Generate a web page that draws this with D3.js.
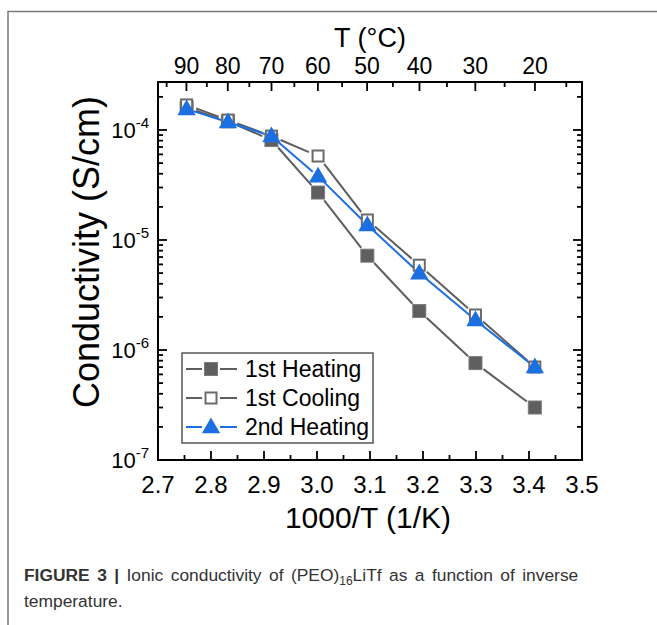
<!DOCTYPE html>
<html>
<head>
<meta charset="utf-8">
<script src="https://cdn.jsdelivr.net/npm/d3@7"></script>
<style>
  body { margin: 0; background: #fff; }
  svg { display: block; font-family: "Liberation Sans", Arial, sans-serif; }
</style>
</head>
<body>
<svg id="chart" width="657" height="625"></svg>
<script>
// inverse temperature (1000/T, 1/K) of each measurement
const invT = [2.754, 2.832, 2.914, 3.002, 3.095, 3.193, 3.299, 3.411];
// conductivity (S/cm)
const heating1 = [1.6e-4, 1.2e-4, 8.1e-5, 2.7e-5, 7.2e-6, 2.26e-6, 7.6e-7, 3.0e-7];
const cooling1 = [1.69e-4, 1.23e-4, 8.8e-5, 5.8e-5, 1.52e-5, 5.9e-6, 2.08e-6, 7.0e-7];
const heating2 = [1.55e-4, 1.18e-4, 8.8e-5, 3.8e-5, 1.37e-5, 5.0e-6, 1.87e-6, 7.0e-7];

const xTicks = [2.7, 2.8, 2.9, 3.0, 3.1, 3.2, 3.3, 3.4, 3.5];
const yTicks = [1e-7, 1e-6, 1e-5, 1e-4];
const topTempTicks = [90, 80, 70, 60, 50, 40, 30, 20];
const topTempMinor = [95, 85, 75, 65, 55, 45, 35, 25, 15];

const seriesNames = ["1st Heating", "1st Cooling", "2nd Heating"];

const svg = d3.select("#chart");
const gray = "#5e5e5e", blue = "#1b6fe0";

// outer frame (open at right and bottom)
svg.append("path")
  .attr("d", "M8,625 V11.5 H657")
  .attr("fill", "none").attr("stroke", "#7a7a7a").attr("stroke-width", 1.5);

const L = 158, R = 582, T = 82, B = 460;
const x = d3.scaleLinear().domain([2.7, 3.5]).range([L, R]);
const y = d3.scaleLog().domain([1e-7, 2.73e-4]).range([B, T]);
const tToX = t => 1000 / (t + 273.15);

// ticks (all pointing inward)
const axes = svg.append("g").attr("stroke", "#000").attr("stroke-width", 1.8);
const xMinor = d3.range(2.75, 3.5, 0.1);
xTicks.forEach(v => {
  axes.append("line").attr("x1", x(v)).attr("x2", x(v)).attr("y1", B).attr("y2", B - 9);
});
xMinor.forEach(v => {
  axes.append("line").attr("x1", x(v)).attr("x2", x(v)).attr("y1", B).attr("y2", B - 5);
});
topTempTicks.forEach(t => {
  axes.append("line").attr("x1", x(tToX(t))).attr("x2", x(tToX(t))).attr("y1", T).attr("y2", T + 9);
});
topTempMinor.forEach(t => {
  axes.append("line").attr("x1", x(tToX(t))).attr("x2", x(tToX(t))).attr("y1", T).attr("y2", T + 5);
});
const yMinor = [];
[1e-7, 1e-6, 1e-5, 1e-4].forEach(d => { for (let k = 2; k <= 9; k++) if (d * k < 2.73e-4) yMinor.push(d * k); });
yTicks.forEach(v => {
  axes.append("line").attr("x1", L).attr("x2", L + 9).attr("y1", y(v)).attr("y2", y(v));
  axes.append("line").attr("x1", R).attr("x2", R - 9).attr("y1", y(v)).attr("y2", y(v));
});
yMinor.forEach(v => {
  axes.append("line").attr("x1", L).attr("x2", L + 5).attr("y1", y(v)).attr("y2", y(v));
  axes.append("line").attr("x1", R).attr("x2", R - 5).attr("y1", y(v)).attr("y2", y(v));
});
svg.append("rect").attr("x", L).attr("y", T).attr("width", R - L).attr("height", B - T)
  .attr("fill", "none").attr("stroke", "#000").attr("stroke-width", 2);

// tick labels
svg.append("g").selectAll("text").data(xTicks).join("text")
  .attr("x", d => x(d)).attr("y", 493).attr("text-anchor", "middle")
  .attr("font-size", 24).text(d => d.toFixed(1));
svg.append("g").selectAll("text").data(topTempTicks).join("text")
  .attr("x", d => x(tToX(d))).attr("y", 74).attr("text-anchor", "middle")
  .attr("font-size", 23).text(d => d);
const yl = svg.append("g").selectAll("text").data(yTicks).join("text")
  .attr("x", 149).attr("y", d => y(d) + 8).attr("text-anchor", "end").attr("font-size", 22);
yl.append("tspan").text("10");
yl.append("tspan").attr("dy", -10).attr("font-size", 15).text(d => Math.round(Math.log10(d)));

// axis titles
svg.append("text").attr("x", 368).attr("y", 528).attr("text-anchor", "middle")
  .attr("font-size", 30).text("1000/T (1/K)");
svg.append("text").attr("x", 370).attr("y", 47).attr("text-anchor", "middle")
  .attr("font-size", 27).text("T (°C)");
svg.append("text").attr("transform", "translate(99,252) rotate(-90)").attr("text-anchor", "middle")
  .attr("font-size", 36).text("Conductivity (S/cm)");

// connecting lines with small gaps near markers
function gapLines(g, vals, color, gap) {
  for (let i = 0; i < vals.length - 1; i++) {
    const x1 = x(invT[i]), y1 = y(vals[i]), x2 = x(invT[i + 1]), y2 = y(vals[i + 1]);
    const len = Math.hypot(x2 - x1, y2 - y1), ux = (x2 - x1) / len, uy = (y2 - y1) / len;
    g.append("line")
      .attr("x1", x1 + ux * gap).attr("y1", y1 + uy * gap)
      .attr("x2", x2 - ux * gap).attr("y2", y2 - uy * gap)
      .attr("stroke", color).attr("stroke-width", 2);
  }
}
const plot = svg.append("g");
gapLines(plot, heating1, gray, 10);
gapLines(plot, cooling1, gray, 10);
gapLines(plot, heating2, blue, 7);

const sq = 13;
function filledSquare(g, cx, cy) {
  g.append("rect").attr("x", cx - sq / 2).attr("y", cy - sq / 2).attr("width", sq).attr("height", sq)
    .attr("fill", "#5f5f5f").attr("stroke", "#7b7b7b").attr("stroke-width", 1);
}
function openSquare(g, cx, cy) {
  g.append("rect").attr("x", cx - sq / 2 + 1).attr("y", cy - sq / 2 + 1).attr("width", sq - 2).attr("height", sq - 2)
    .attr("fill", "#fff").attr("stroke", "#6a6a6a").attr("stroke-width", 2);
}
const tri = d3.symbol().type(d3.symbolTriangle).size(145);
function triangle(g, cx, cy) {
  g.append("path").attr("d", tri()).attr("transform", `translate(${cx},${cy + 1})`)
    .attr("fill", blue);
}

invT.forEach((v, i) => filledSquare(plot, x(v), y(heating1[i])));
invT.forEach((v, i) => openSquare(plot, x(v), y(cooling1[i])));
invT.forEach((v, i) => triangle(plot, x(v), y(heating2[i])));

// legend
const leg = svg.append("g");
leg.append("rect").attr("x", 182).attr("y", 353).attr("width", 191).attr("height", 90)
  .attr("fill", "#fff").attr("stroke", "#555").attr("stroke-width", 1.5);
const markers = [filledSquare, openSquare, triangle];
const legColors = [gray, gray, blue];
seriesNames.forEach((name, i) => {
  const ly = 369 + i * 29;
  leg.append("line").attr("x1", 186).attr("x2", 202).attr("y1", ly).attr("y2", ly)
    .attr("stroke", legColors[i]).attr("stroke-width", 2);
  leg.append("line").attr("x1", 220).attr("x2", 237).attr("y1", ly).attr("y2", ly)
    .attr("stroke", legColors[i]).attr("stroke-width", 2);
  markers[i](leg, 211, ly);
  leg.append("text").attr("x", 245).attr("y", ly + 8).attr("font-size", 23).text(name);
});

// caption (first line justified)
const cap = svg.append("text").attr("x", 24).attr("y", 581)
  .attr("font-size", 17.4).attr("fill", "#333").attr("word-spacing", 2.6);
cap.append("tspan").attr("font-weight", "bold").text("FIGURE 3 |");
cap.append("tspan").text(" Ionic conductivity of (PEO)");
cap.append("tspan").attr("dy", 4).attr("font-size", 12).text("16");
cap.append("tspan").attr("dy", -4).text("LiTf as a function of inverse");
svg.append("text").attr("x", 24).attr("y", 607)
  .attr("font-size", 17.4).attr("fill", "#333").text("temperature.");
</script>
</body>
</html>
